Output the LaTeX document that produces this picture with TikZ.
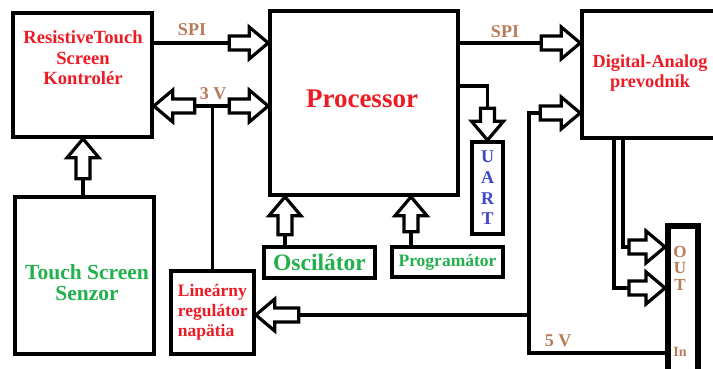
\documentclass[tikz,border=0pt]{standalone}
\usepackage{fontspec}
\setmainfont{Liberation Serif}
\definecolor{pred}{RGB}{237,28,36}
\definecolor{pgreen}{RGB}{34,177,76}
\definecolor{pblue}{RGB}{63,72,204}
\definecolor{pbrown}{RGB}{185,122,87}
\newcommand{\fs}[2]{\fontsize{#1}{#2}\selectfont}
\begin{document}
\begin{tikzpicture}[x=1pt,y=-1pt,line width=3.2pt,font=\bfseries,
  box/.style={draw,line width=3.6pt,inner sep=0pt,fill=white},
  blen/.store in=\blen, blen=39,
  barrow/.pic={\draw[line width=3.2pt,fill=white,line join=miter]
     (0,0) -- (-19,-16) -- (-19,-7) -- (-\blen,-7) -- (-\blen,7) -- (-19,7) -- (-19,16) -- cycle;},
  lbl/.style={text=pbrown,font=\bfseries\fs{18}{20}}]
\useasboundingbox (0,0) rectangle (713,369);
\fill[white] (0,0) rectangle (713,369);
% boxes
\node[box,minimum width=139pt,minimum height=124pt] (ctrl) at (82.5,75) {};
\node[box,minimum width=188pt,minimum height=184pt] (proc) at (364,103) {};
\node[box,minimum width=140pt,minimum height=127pt] (dac) at (652,74.5) {};
\node[box,minimum width=139pt,minimum height=157pt] (sen) at (84.5,275.5) {};
\node[box,minimum width=83pt,minimum height=83pt] (reg) at (212.5,312.5) {};
\node[box,minimum width=111pt,minimum height=31pt,text=pgreen,font=\bfseries\fs{23.5}{26}] (osc) at (319.5,262.5) {Oscilátor};
\node[box,minimum width=111pt,minimum height=30pt,text=pgreen,font=\bfseries\fs{17.5}{20}] (prog) at (447.5,262) {Programátor};
\node[box,minimum width=31pt,minimum height=92pt,text=pblue,align=center,font=\bfseries\fs{18}{20.7}] (uart) at (487.5,188) {U\\A\\R\\T};
\node[box,line width=6pt,minimum width=30pt,minimum height=160pt] (out) at (683,306) {};
% texts
\node[text=pred,align=center,font=\bfseries\fs{18.6}{20.5}] (ctrlt) at (83,58) {ResistiveTouch\\Screen\\Kontrolér};
\node[text=pred,font=\bfseries\fs{27}{30}] (proct) at (362,99) {Processor};
\node[text=pred,align=center,font=\bfseries\fs{18.3}{20}] (dact) at (650,73) {Digital-Analog\\prevodník};
\node[text=pgreen,align=center,font=\bfseries\fs{21.5}{21}] (sent) at (87,283) {Touch Screen\\Senzor};
\node[text=pred,align=left,anchor=west,font=\bfseries\fs{17.5}{20}] (regt) at (173,312) {Lineárny\\regulátor\\napätia};
\node[text=pbrown,align=center,font=\bfseries\fs{17}{16.5}] (outt) at (680,268) {O\\U\\T};
\node[text=pbrown,font=\bfseries\fs{14}{14}] (int) at (680,352) {In};
\node[lbl] (spi1) at (192,30) {SPI};
\node[lbl] (spi2) at (505,32) {SPI};
\node[lbl] (v3) at (213,94) {3 V};
\node[lbl] (v5) at (558,341) {5 V};
% helper coordinates
\coordinate (yA) at (0,43);
\coordinate (yB) at (0,106);
\coordinate (yU) at (0,86);
\coordinate (yD) at (0,113);
\coordinate (yR) at (0,315);
\coordinate (yIn) at (0,353);
\coordinate (yO1) at (0,247);
\coordinate (yO2) at (0,288);
\coordinate (xS) at (83,0);
\coordinate (xO) at (285,0);
\coordinate (xP) at (411,0);
\coordinate (xV) at (529,0);
\coordinate (xD1) at (614,0);
\coordinate (xD2) at (623,0);
% connectors
\draw (ctrl.east |- yA) -- ([xshift=-39pt]proc.west |- yA);
\pic at (proc.west |- yA) {barrow};
\draw ([xshift=41pt]ctrl.east |- yB) -- ([xshift=-39pt]proc.west |- yB);
\pic[rotate=180,blen=41] at (ctrl.east |- yB) {barrow};
\pic at (proc.west |- yB) {barrow};
\draw (reg.north) -- (reg.north |- yB);
\draw (sen.north -| xS) -- ([yshift=-40pt]ctrl.south -| xS);
\pic[rotate=90,blen=40] at (ctrl.south -| xS) {barrow};
\draw (osc.north -| xO) -- ([yshift=-38pt]proc.south -| xO);
\pic[rotate=90,blen=38] at (proc.south -| xO) {barrow};
\draw (prog.north -| xP) -- ([yshift=-35pt]proc.south -| xP);
\pic[rotate=90,blen=35] at (proc.south -| xP) {barrow};
\draw (proc.east |- yU) -| ([yshift=32pt]uart.north);
\pic[rotate=-90,blen=32] at (uart.north) {barrow};
\draw (proc.east |- yA) -- ([xshift=-39pt]dac.west |- yA);
\pic at (dac.west |- yA) {barrow};
\draw ([xshift=-40pt]dac.west |- yD) -| (xV |- yIn) -- (out.west |- yIn);
\pic[blen=40] at (dac.west |- yD) {barrow};
\draw (xV |- yR) -- ([xshift=43pt]reg.east |- yR);
\pic[rotate=180,blen=43] at (reg.east |- yR) {barrow};
\draw (dac.south -| xD2) |- ([xshift=-36pt]out.west |- yO1);
\pic[blen=36] at (out.west |- yO1) {barrow};
\draw (dac.south -| xD1) |- ([xshift=-36pt]out.west |- yO2);
\pic[blen=36] at (out.west |- yO2) {barrow};
\end{tikzpicture}
\end{document}
